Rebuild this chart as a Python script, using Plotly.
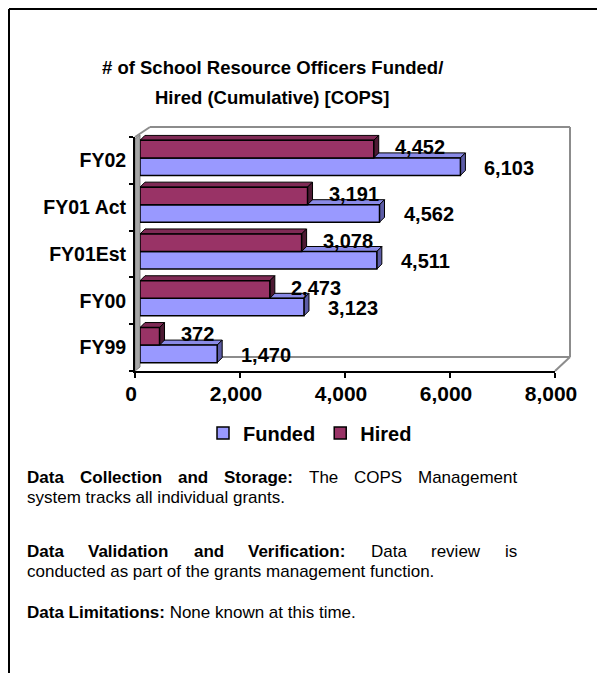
import plotly.graph_objects as go

# ---------------- data ----------------
categories = ["FY99", "FY00", "FY01Est", "FY01 Act", "FY02"]
funded = [1470, 3123, 4511, 4562, 6103]
hired = [372, 2473, 3078, 3191, 4452]
x_ticks = [0, 2000, 4000, 6000, 8000]
x_tick_text = ["0", "2,000", "4,000", "6,000", "8,000"]

title_lines = ["# of School Resource Officers Funded/", "Hired (Cumulative) [COPS]"]

# ---------------- geometry (screen px; page body has an 8px margin) ----------------
OFF = 8
W, H = 605 - OFF, 673 - OFF
PLOT_L, PLOT_R, PLOT_T, PLOT_B = 135, 570, 127, 371   # screen px
L, R, T, B = PLOT_L - OFF, W - (PLOT_R - OFF), PLOT_T - OFF, H - (PLOT_B - OFF)
PW, PH = PLOT_R - PLOT_L, PLOT_B - PLOT_T
FONT = "Arial, Liberation Sans, sans-serif"

def fx(px):
    return (px - PLOT_L) / PW

def fy(py):
    return (PLOT_B - py) / PH

XMAX = 8000
axis_w = 420   # px for 0..8000
axis_h = 234   # px for the category axis
DX = 5 * XMAX / axis_w
DY = 5 * len(categories) / axis_h

FUND_C, FUND_TOP, FUND_SIDE = "#9999FF", "#8a8ae6", "#5c5ca6"
HIRE_C, HIRE_TOP, HIRE_SIDE = "#993366", "#7f2a55", "#4d1a33"

ypos = list(range(len(categories)))
half = 0.375

fig = go.Figure()
fig.add_trace(go.Bar(
    y=ypos, x=funded, orientation="h", name="Funded",
    marker=dict(color=FUND_C, line=dict(color="black", width=1.5)),
    xaxis="x2", yaxis="y2", hoverinfo="skip"))
fig.add_trace(go.Bar(
    y=ypos, x=hired, orientation="h", name="Hired",
    marker=dict(color=HIRE_C, line=dict(color="black", width=1.5)),
    xaxis="x2", yaxis="y2", hoverinfo="skip"))
fig.add_trace(go.Scatter(x=[0], y=[0], mode="markers", marker=dict(opacity=0),
                         showlegend=False, hoverinfo="skip"))

shapes = []
annotations = []

def faces(v, yb, yt, top_c, side_c):
    top = f"M 0,{yt} L {DX},{yt+DY} L {v+DX},{yt+DY} L {v},{yt} Z"
    side = f"M {v},{yb} L {v+DX},{yb+DY} L {v+DX},{yt+DY} L {v},{yt} Z"
    return [dict(type="path", path=p, xref="x2", yref="y2", fillcolor=c,
                 line=dict(color="black", width=1), layer="below")
            for p, c in ((top, top_c), (side, side_c))]

LBL = dict(family=FONT, size=20, color="black", weight="bold")
for i, (f, h) in enumerate(zip(funded, hired)):
    shapes += faces(f, i - half, i, FUND_TOP, FUND_SIDE)
    shapes += faces(h, i, i + half, HIRE_TOP, HIRE_SIDE)
    annotations.append(dict(x=h, y=i + half / 2, xref="x2", yref="y2", text=f"{h:,}",
                            xanchor="left", yanchor="middle", xshift=19, yshift=2,
                            showarrow=False, font=LBL))
    annotations.append(dict(x=f, y=i - half / 2, xref="x2", yref="y2", text=f"{f:,}",
                            xanchor="left", yanchor="middle", xshift=22, yshift=-1,
                            showarrow=False, font=LBL))

GRAY = "#8c8c8c"
def pline(x0, y0, x1, y1, color, width):
    return dict(type="line", xref="paper", yref="paper", x0=fx(x0), y0=fy(y0),
                x1=fx(x1), y1=fy(y1), line=dict(color=color, width=width), layer="below")

shapes += [
    pline(150, 127, 570, 127, GRAY, 2),
    pline(570, 127, 570, 357, GRAY, 2),
    pline(150, 357, 570, 357, GRAY, 2),
    pline(570, 357, 555, 371, GRAY, 2),
    pline(135, 137, 150, 127, GRAY, 2),
    dict(type="path", xref="paper", yref="paper", layer="below",
         path=f"M {fx(135)},{fy(139)} L {fx(140)},{fy(135)} L {fx(140)},{fy(367)} L {fx(135)},{fy(371)} Z",
         fillcolor="#a6a6a6", line=dict(color="#808080", width=1)),
    pline(9, 9, 605, 9, "black", 2),
    pline(9, 9, 9, 673, "black", 2),
]

for k, t in enumerate(title_lines):
    annotations.append(dict(x=fx(272), y=fy(68 + 29 * k), xref="paper", yref="paper",
                            text=t, showarrow=False, xanchor="center", yanchor="middle",
                            font=dict(family=FONT, size=18.5, color="black", weight="bold")))

# ---------------- body text (justified lines) ----------------
BODY = 17
REG = {' ': 278, 'a': 556, 'c': 500, 'd': 556, 'e': 556, 'g': 556, 'h': 556, 'i': 222,
       'm': 833, 'n': 556, 'r': 333, 's': 500, 't': 278, 'v': 500, 'w': 722,
       'C': 722, 'D': 722, 'M': 833, 'O': 778, 'P': 667, 'S': 667, 'T': 611}
BLD = {' ': 278, 'a': 556, 'c': 556, 'd': 611, 'e': 556, 'f': 333, 'g': 611, 'i': 278,
       'l': 278, 'n': 611, 'o': 611, 'r': 389, 't': 333, 'u': 611, 'C': 722, 'D': 722,
       'S': 667, 'V': 667, ':': 333}

def tw(s, bold):
    tab = BLD if bold else REG
    return sum(tab.get(c, 556) for c in s) * BODY / 1000

def word(x, y, t, bold=False, anchor="left"):
    if bold:
        t = f"<b>{t}</b>"
    annotations.append(dict(x=fx(x), y=fy(y), xref="paper", yref="paper", text=t,
                            showarrow=False, xanchor=anchor, yanchor="middle",
                            font=dict(family=FONT, size=BODY, color="black")))

TX0, TX1 = 25, 515
def justified(words, y):
    total = sum(tw(w, b) for w, b in words)
    gap = (TX1 - TX0 - total) / (len(words) - 1)
    x = TX0
    for w, b in words:
        word(x, y, w, b)
        x += tw(w, b) + gap

justified([("Data", True), ("Collection", True), ("and", True), ("Storage:", True),
           ("The", False), ("COPS", False), ("Management", False)], 477)
word(25, 497, "system tracks all individual grants.")
justified([("Data", True), ("Validation", True), ("and", True), ("Verification:", True),
           ("Data", False), ("review", False), ("is", False)], 551)
word(25, 571, "conducted as part of the grants management function.")
word(25, 612, "<b>Data Limitations:</b> None known at this time.")

fig.update_layout(
    width=W, height=H,
    margin=dict(l=L, r=R, t=T, b=B, autoexpand=False),
    paper_bgcolor="white", plot_bgcolor="rgba(0,0,0,0)",
    barmode="group", bargap=0.25, bargroupgap=0,
    showlegend=True,
    legend=dict(orientation="h", x=fx(310), y=fy(433), xanchor="center", yanchor="middle",
                font=dict(family=FONT, size=20, color="black", weight="bold"),
                bgcolor="rgba(0,0,0,0)", itemclick=False, itemdoubleclick=False,
                itemwidth=30, tracegroupgap=0),
    xaxis=dict(domain=[0, axis_w / PW], range=[0, XMAX], tickvals=x_ticks,
               ticktext=x_tick_text, ticks="outside", ticklen=5, tickwidth=2,
               tickcolor="black", showline=True, linecolor="black", linewidth=2,
               showgrid=False, zeroline=False, anchor="y",
               tickfont=dict(family=FONT, size=21, color="black", weight="bold"),
               ticklabelstandoff=-2, ticklabelshift=-4, fixedrange=True),
    yaxis=dict(domain=[0, axis_h / PH], range=[-0.5, len(categories) - 0.5],
               tickvals=ypos, ticktext=categories, ticks="",
               minor=dict(tickvals=[k - 0.5 for k in range(len(categories) + 1)],
                          ticks="outside", ticklen=4, tickwidth=2, tickcolor="black"),
               showline=True, linecolor="black", linewidth=2, showgrid=False,
               zeroline=False, anchor="x",
               tickfont=dict(family=FONT, size=19.5, color="black", weight="bold"),
               ticklabelstandoff=3, fixedrange=True),
    xaxis2=dict(domain=[5 / PW, (5 + axis_w) / PW], range=[0, XMAX], visible=False,
                anchor="y2", fixedrange=True),
    yaxis2=dict(domain=[2.5 / PH, (2.5 + axis_h) / PH], range=[-0.5, len(categories) - 0.5],
                visible=False, anchor="x2", fixedrange=True),
    shapes=shapes, annotations=annotations,
)

fig.write_html("out.html")
